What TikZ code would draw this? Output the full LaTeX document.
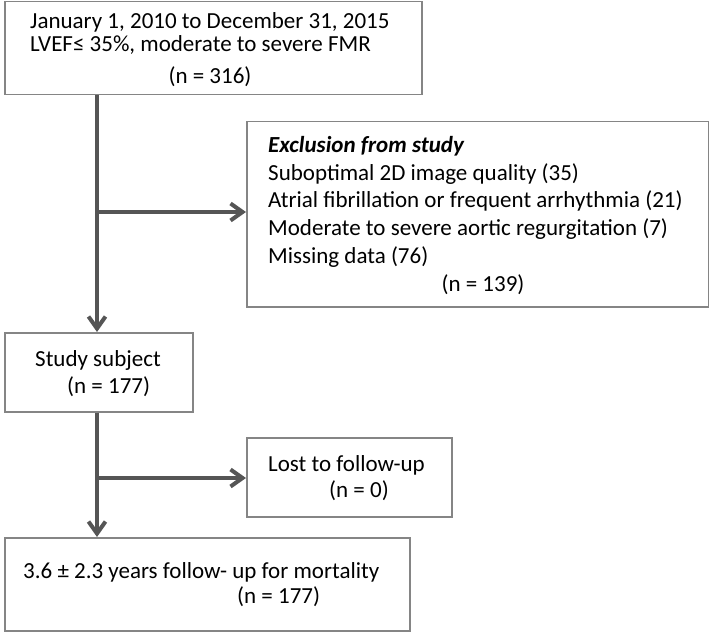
\documentclass[tikz,border=0pt]{standalone}
\usepackage{fontspec}
\setmainfont{Carlito}
\usetikzlibrary{arrows.meta}
\definecolor{linegray}{HTML}{555555}
\definecolor{boxgray}{HTML}{858585}
\begin{document}
\begin{tikzpicture}[x=1pt,y=-1pt,
  box/.style={draw=boxgray, line width=1.5pt, anchor=north west, inner sep=0pt, fill=white},
  txt/.style={anchor=base west, inner sep=0pt, text=black, font=\fontsize{23}{27}\selectfont},
  ctxt/.style={txt, anchor=base},
  arr/.style={draw=linegray, line width=4pt, -{Straight Barb[length=12pt,width=17pt,line width=4pt]}},
  trunk/.style={draw=linegray, line width=4pt}]
\useasboundingbox[fill=white] (0,0) rectangle (709,636);
% boxes
\node[box, minimum width=417pt, minimum height=93pt] (b1) at (4,1) {};
\node[box, minimum width=462pt, minimum height=185pt] (ex) at (246,121) {};
\node[box, minimum width=188pt, minimum height=79pt] (b2) at (4,332) {};
\node[box, minimum width=205pt, minimum height=79pt] (lost) at (246,437) {};
\node[box, minimum width=405pt, minimum height=93pt] (fin) at (4,537) {};
% junctions
\coordinate (j1) at (97,212);
\coordinate (j2) at (97,478);
% connectors
\draw[arr] (j1 |- b1.south) -- (j1 |- b2.north);
\draw[arr] (j1) -- (j1 -| ex.west);
\draw[arr] (j2 |- b2.south) -- (j2 |- fin.north);
\draw[arr] (j2) -- (j2 -| lost.west);
% texts
\begin{scope}[every node/.append style={font=\fontsize{22.3}{27}\selectfont}]
\node[txt] (t1) at (30,29) {January 1, 2010 to December 31, 2015};
\node[txt] (t2) at (30,52) {LVEF≤ 35\%, moderate to severe FMR};
\node[ctxt] (t3) at (210,84) {(n = 316)};
\end{scope}
\begin{scope}[every node/.append style={font=\fontsize{23.1}{27}\selectfont}]
\node[txt] (e1) at (268,153) {\bfseries\itshape Exclusion from study};
\node[txt] (e2) at (268,180.5) {Suboptimal 2D image quality (35)};
\node[txt] (e3) at (268,208) {Atrial fibrillation or frequent arrhythmia (21)};
\node[txt] (e4) at (268,235.5) {Moderate to severe aortic regurgitation (7)};
\node[txt] (e5) at (268,263) {Missing data (76)};
\node[ctxt] (e6) at (483,291) {(n = 139)};
\end{scope}
\node[txt] (s1) at (35,366) {Study subject};
\node[txt] (s2) at (67,393) {(n = 177)};
\node[txt] (l1) at (268,471) {Lost to follow-up};
\node[txt] (l2) at (329,497) {(n = 0)};
\begin{scope}[every node/.append style={font=\fontsize{24}{27}\selectfont}]
\node[txt] (f1) at (23,578) {3.6 ± 2.3 years follow- up for mortality};
\node[txt] (f2) at (237,603) {(n = 177)};
\end{scope}
\end{tikzpicture}
\end{document}
